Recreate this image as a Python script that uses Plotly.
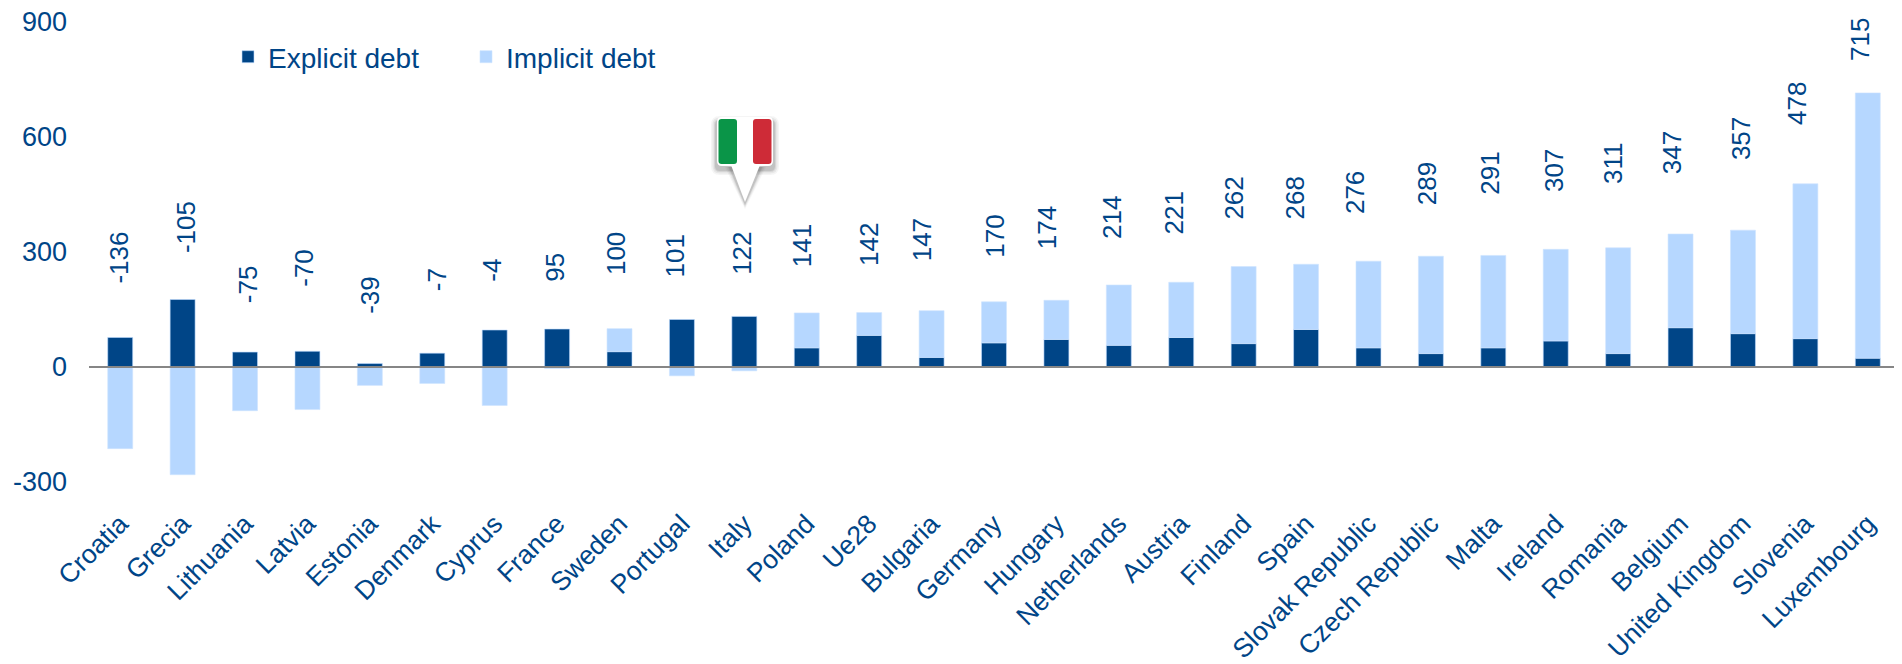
import plotly.graph_objects as go

countries = ["Croatia", "Grecia", "Lithuania", "Latvia", "Estonia", "Denmark", "Cyprus", "France", "Sweden",
             "Portugal", "Italy", "Poland", "Ue28", "Bulgaria", "Germany", "Hungary", "Netherlands", "Austria",
             "Finland", "Spain", "Slovak Republic", "Czech Republic", "Malta", "Ireland", "Romania", "Belgium",
             "United Kingdom", "Slovenia", "Luxembourg"]
explicit_debt = [77, 176, 39, 41, 9, 36, 96.5, 99, 40, 124, 132, 50, 82.5, 25, 63, 72, 56.5, 77, 61, 98, 50, 35,
                 50, 68, 35, 102.5, 87, 74, 23]
implicit_debt = [-213, -281, -114, -111, -48, -43, -100.5, -4, 60, -23, -10, 91, 59.5, 122, 107, 102, 157.5, 144,
                 201, 170, 226, 254, 241, 239, 276, 244.5, 270, 404, 692]
total_labels = [-136, -105, -75, -70, -39, -7, -4, 95, 100, 101, 122, 141, 142, 147, 170, 174, 214, 221, 262, 268,
                276, 289, 291, 307, 311, 347, 357, 478, 715]
# Height (axis units) of the middle of each rotated total label, and its sideways nudge in pixels
label_height = [286, 364, 216, 260, 188, 227, 253, 259, 296, 291, 296, 317, 319, 332, 340, 363, 391, 401, 441, 440,
                455, 479, 505, 513, 530, 559, 597, 687, 855]
label_nudge = [-1, 4, 3, -3, 0, 5, -3, -2, -4, -6, -3, -4, 0, -10, 1, -10, -7, -7, -10, -11, -14, -4, -3, -1, -5,
               -9, -2, -9, -8]
y_ticks = [-300, 0, 300, 600, 900]
y_range = [-300, 900]

NAVY = "#004587"
LIGHT = "#B6D7FF"
FONT = "Liberation Sans, Arial, sans-serif"
PAGE_OFFSET = 8  # the page's own margin around the figure
W, H = 1902 - PAGE_OFFSET, 664 - PAGE_OFFSET
ML, MR, MT, MB = 81, 3, 14, 182


def px(x):
    return (x - PAGE_OFFSET - ML) / (W - ML - MR)


def py(y):
    return 1 - (y - PAGE_OFFSET - MT) / (H - MT - MB)


def path(points):
    return "M" + " L".join(f"{px(a):.5f},{py(b):.5f}" for a, b in points) + " Z"


def rounded_rect(x0, y0, x1, y1, r):
    p = lambda a, b: f"{px(a):.5f},{py(b):.5f}"
    return (f"M{p(x0 + r, y0)} L{p(x1 - r, y0)} Q{p(x1, y0)} {p(x1, y0 + r)} L{p(x1, y1 - r)} "
            f"Q{p(x1, y1)} {p(x1 - r, y1)} L{p(x0 + r, y1)} Q{p(x0, y1)} {p(x0, y1 - r)} L{p(x0, y0 + r)} "
            f"Q{p(x0, y0)} {p(x0 + r, y0)} Z")


def pin_shapes():
    shapes = []
    base = dict(type="path", xref="paper", yref="paper", layer="above", line_width=0)
    # soft shadow
    for grow, alpha in ((5, 0.05), (3.5, 0.07), (2, 0.1), (1, 0.12)):
        shapes.append(dict(base, fillcolor=f"rgba(60,60,60,{alpha})",
                           path=rounded_rect(716 - grow, 118 - grow + 3, 774 + grow, 167 + grow + 3, 4 + grow)))
        shapes.append(dict(base, fillcolor=f"rgba(60,60,60,{alpha})",
                           path=path([(730 - grow, 167), (761 + grow, 167), (745, 204 + grow)])))
    # white pin
    shapes.append(dict(base, fillcolor="#FFFFFF", path=path([(731, 165), (760, 165), (745, 202)])))
    shapes.append(dict(base, fillcolor="#FFFFFF", path=rounded_rect(717, 117, 773, 166, 5)))
    # flag stripes
    shapes.append(dict(base, fillcolor="#0A9548", path=rounded_rect(718.5, 119, 737, 164, 3)))
    shapes.append(dict(base, fillcolor="#CE2B37", path=rounded_rect(753, 119, 771.5, 164, 3)))
    return shapes


fig = go.Figure()
fig.add_bar(x=countries, y=explicit_debt, name="Explicit debt",
            marker=dict(color=NAVY, line=dict(color="#BFDCFF", width=0.6)))
fig.add_bar(x=countries, y=implicit_debt, name="Implicit debt",
            marker=dict(color=LIGHT, line=dict(color="#CFE4FF", width=0.6)))

annotations = [
    dict(x=c, y=h, xref="x", yref="y", text=str(v), showarrow=False, textangle=-90, xanchor="center",
         yanchor="middle", xshift=n, font=dict(family=FONT, size=26, color=NAVY))
    for c, v, h, n in zip(countries, total_labels, label_height, label_nudge)
]

axis_line = dict(type="line", xref="paper", yref="y", x0=0, x1=1, y0=0, y1=0, layer="above",
                 line=dict(color="#868686", width=2))

fig.update_layout(
    width=W, height=H, autosize=False,
    margin=dict(l=ML, r=MR, t=MT, b=MB),
    barmode="relative", bargap=0.6,
    paper_bgcolor="white", plot_bgcolor="white",
    font=dict(family=FONT, size=26, color=NAVY),
    annotations=annotations,
    shapes=[axis_line] + pin_shapes(),
    legend=dict(orientation="h", x=px(228), y=py(32), xanchor="left", yanchor="top",
                entrywidth=193, entrywidthmode="pixels", itemwidth=30,
                bgcolor="rgba(0,0,0,0)", font=dict(family=FONT, size=28, color=NAVY)),
    xaxis=dict(type="category", categoryorder="array", categoryarray=countries, range=[-0.5, 28.5],
               showgrid=False, zeroline=False, showline=False, ticks="", tickangle=-45,
               ticklabelstandoff=20, ticklabeloverflow="allow",
               tickfont=dict(family=FONT, size=26.5, color=NAVY), automargin=False),
    yaxis=dict(range=y_range, tickmode="array", tickvals=y_ticks, ticktext=[str(t) for t in y_ticks],
               showgrid=False, zeroline=False, showline=False, ticks="", ticklabelstandoff=21,
               ticklabeloverflow="allow", tickfont=dict(family=FONT, size=27, color=NAVY), automargin=False),
)

fig.write_html("out.html", config={"displayModeBar": False, "responsive": False})
